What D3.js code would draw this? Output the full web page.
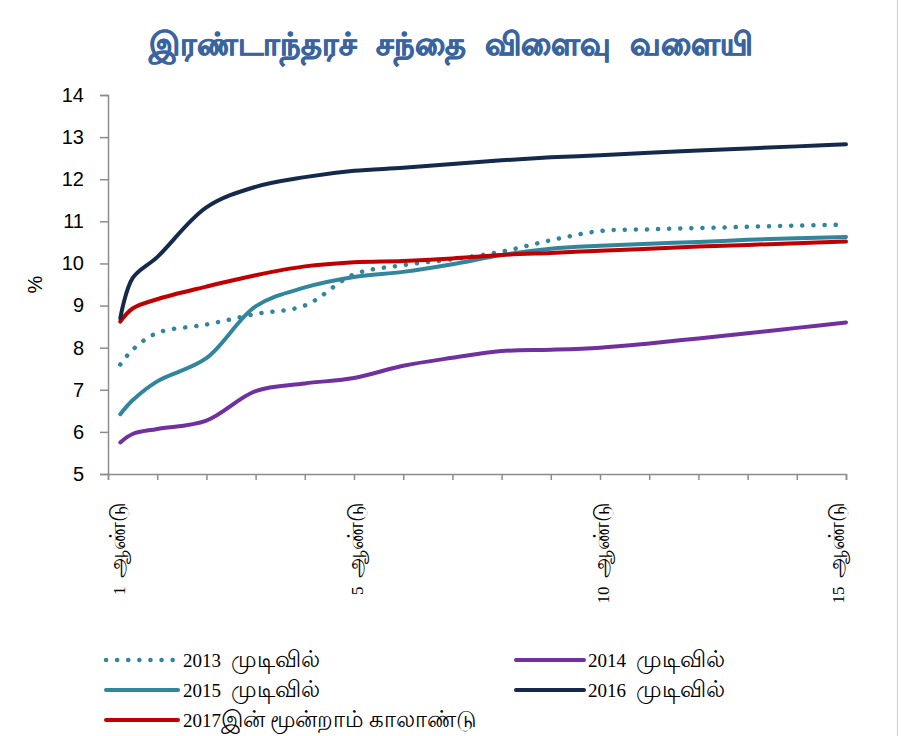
<!DOCTYPE html>
<html>
<head>
<meta charset="utf-8">
<script src="https://cdn.jsdelivr.net/npm/d3@7"></script>
<style>
  body { margin: 0; background: #fff; }
  svg { display: block; }
</style>
</head>
<body>
<svg></svg>
<script>
// maturities in years (3m, 6m, then yearly up to 15y)
const maturities = [0.25, 0.5, 1, 2, 3, 4, 5, 6, 7, 8, 9, 10, 11, 12, 13, 14, 15];

const y2013 = [7.6, 7.95, 8.35, 8.55, 8.8, 9.0, 9.74, 9.96, 10.1, 10.28, 10.55, 10.77, 10.81, 10.84, 10.87, 10.9, 10.92];
const y2014 = [5.75, 5.95, 6.07, 6.27, 6.97, 7.15, 7.28, 7.57, 7.76, 7.92, 7.95, 8.0, 8.1, 8.22, 8.34, 8.47, 8.6];
const y2015 = [6.42, 6.75, 7.2, 7.75, 8.98, 9.43, 9.68, 9.8, 9.98, 10.2, 10.35, 10.42, 10.47, 10.51, 10.56, 10.6, 10.63];
const y2016 = [8.7, 9.65, 10.15, 11.33, 11.82, 12.05, 12.2, 12.27, 12.36, 12.45, 12.52, 12.57, 12.63, 12.68, 12.73, 12.78, 12.83];
const y2017 = [8.62, 8.93, 9.15, 9.45, 9.72, 9.93, 10.03, 10.06, 10.12, 10.2, 10.25, 10.3, 10.35, 10.4, 10.44, 10.48, 10.52];

const yTicks = [5, 6, 7, 8, 9, 10, 11, 12, 13, 14];
const xLabelYears = [0, 5, 10, 15];
const xLabels = ["1  ஆண்டு", "5  ஆண்டு", "10  ஆண்டு", "15  ஆண்டு"];

const title = "இரண்டாந்தரச் சந்தை விளைவு வளையி";

const series = [
    { name: "2013  முடிவில்", values: y2013, color: "#31859c", dotted: true },
    { name: "2014  முடிவில்", values: y2014, color: "#7030a0" },
    { name: "2015  முடிவில்", values: y2015, color: "#31859c" },
    { name: "2016  முடிவில்", values: y2016, color: "#14294b" },
    { name: "2017இன் மூன்றாம் காலாண்டு", values: y2017, color: "#c00000" }
];

const width = 901, height = 736;
const svg = d3.select("svg").attr("width", width).attr("height", height);

const x = d3.scaleLinear().domain([0, 15]).range([108, 846]);
const y = d3.scaleLinear().domain([5, 14]).range([474, 95]);

// split a label into latin / tamil runs so tamil can be drawn a little larger
function addRuns(sel, text, tamilScale) {
    const runs = text.match(/[\u0B80-\u0BFF]+|[^\u0B80-\u0BFF]+/g);
    runs.forEach(r => {
        const t = sel.append("tspan").text(r);
        if (/[\u0B80-\u0BFF]/.test(r)) t.attr("font-size", tamilScale + "em");
    });
}

// light frame on the right edge
svg.append("line")
    .attr("x1", 897.5).attr("x2", 897.5)
    .attr("y1", 0).attr("y2", height)
    .attr("stroke", "#d0d0d0").attr("stroke-width", 1);

svg.append("text")
    .attr("x", 451)
    .attr("y", 55)
    .attr("text-anchor", "middle")
    .attr("font-family", "Liberation Sans, Arial, sans-serif")
    .attr("font-weight", "bold")
    .attr("font-size", "32px")
    .attr("word-spacing", "10px")
    .attr("fill", "#3a64a0")
    .attr("stroke", "#3a64a0")
    .attr("stroke-width", 0.7)
    .text(title);

// y axis
const yAxis = svg.append("g")
    .attr("transform", `translate(${x(0)},0)`)
    .call(d3.axisLeft(y).tickValues(yTicks).tickSize(8).tickPadding(16));
yAxis.selectAll("text")
    .attr("font-family", "Liberation Sans, Arial, sans-serif")
    .attr("font-size", "20px")
    .attr("fill", "#000");

// x axis
const xAxis = svg.append("g")
    .attr("transform", `translate(0,${y(5)})`)
    .call(d3.axisBottom(x).tickValues(d3.range(0, 16)).tickSize(6).tickFormat(""));

[yAxis, xAxis].forEach(g => {
    g.select(".domain").attr("stroke", "#8c8c8c").attr("stroke-width", 1.5);
    g.selectAll(".tick line").attr("stroke", "#8c8c8c").attr("stroke-width", 1.5);
});

// rotated category labels, kept inside the plot edges
const [xMin, xMax] = x.range();
svg.append("g")
    .selectAll("text")
    .data(xLabelYears)
    .enter()
    .append("text")
    .attr("transform", (d) => {
        const cx = Math.max(xMin + 11, Math.min(xMax - 8, x(d) + 3));
        return `translate(${cx},${y(5) + 28}) rotate(-90)`;
    })
    .attr("dy", "0.35em")
    .attr("text-anchor", "end")
    .attr("font-family", "Liberation Serif, Times New Roman, serif")
    .attr("font-size", "17px")
    .attr("fill", "#000")
    .style("white-space", "pre")
    .each(function(d, i) { addRuns(d3.select(this), xLabels[i], 1.3); });

svg.append("text")
    .attr("transform", `translate(42,${(y(5) + y(14)) / 2}) rotate(-90)`)
    .attr("text-anchor", "middle")
    .attr("font-family", "Liberation Sans, Arial, sans-serif")
    .attr("font-size", "20px")
    .text("%");

const line = d3.line()
    .x((d, i) => x(maturities[i]))
    .y((d) => y(d))
    .curve(d3.curveCatmullRom.alpha(0.5));

const drawOrder = [0, 1, 2, 4, 3];
svg.append("g")
    .attr("class", "lines")
    .selectAll("path")
    .data(drawOrder.map(i => series[i]))
    .enter()
    .append("path")
    .attr("d", (s) => line(s.values))
    .attr("fill", "none")
    .attr("stroke", (s) => s.color)
    .attr("stroke-width", (s) => s.dotted ? 4.5 : 4)
    .attr("stroke-linecap", "round")
    .attr("stroke-linejoin", "round")
    .attr("stroke-dasharray", (s) => s.dotted ? "0.1 11" : null);

// legend: two columns, three rows
const legend = svg.append("g").attr("class", "legend");
const item = legend.selectAll("g")
    .data(series)
    .enter()
    .append("g")
    .attr("transform", (s, i) => `translate(${i % 2 ? 516 : 106},${660 + Math.floor(i / 2) * 30})`);

item.append("line")
    .attr("x1", 0).attr("x2", (s, i) => i % 2 ? 68 : 72)
    .attr("y1", 0).attr("y2", 0)
    .attr("stroke", (s) => s.color)
    .attr("stroke-width", (s) => s.dotted ? 4.5 : 4)
    .attr("stroke-linecap", "round")
    .attr("stroke-dasharray", (s) => s.dotted ? "0.1 11" : null);

item.append("text")
    .attr("x", (s, i) => i % 2 ? 72 : 77)
    .attr("y", 0)
    .attr("dy", "0.35em")
    .attr("font-family", "Liberation Serif, Times New Roman, serif")
    .attr("font-size", "19px")
    .attr("fill", "#000")
    .style("white-space", "pre")
    .each(function(s) { addRuns(d3.select(this), s.name, 1.2); });
</script>
</body>
</html>
